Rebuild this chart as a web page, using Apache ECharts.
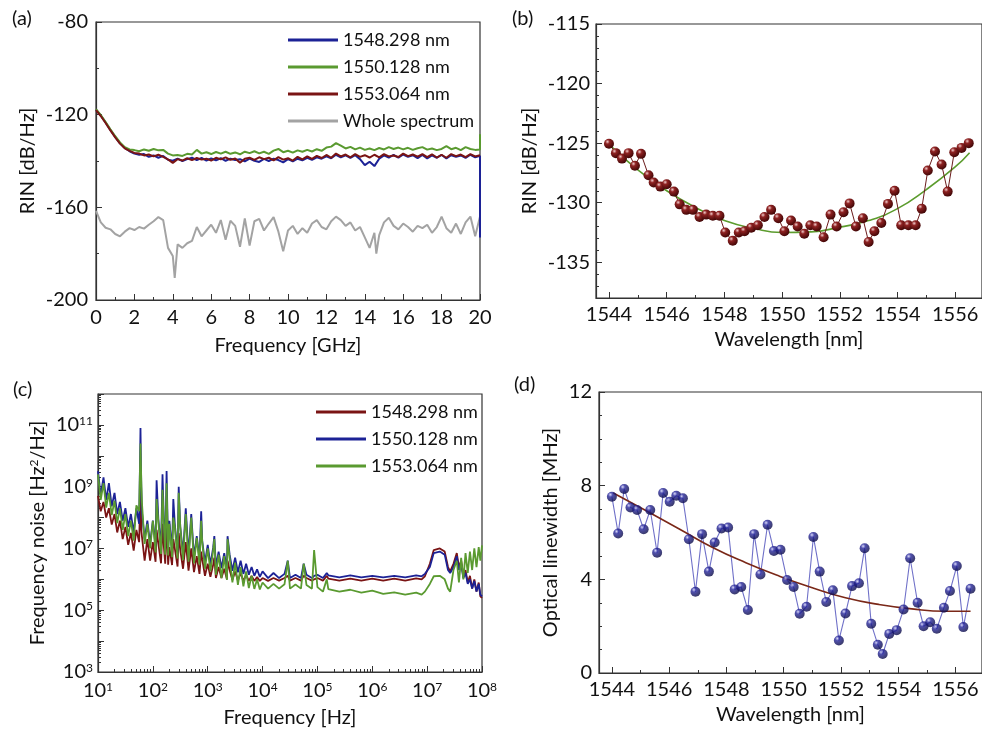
<!DOCTYPE html>
<html>
<head>
<meta charset="utf-8">
<script src="https://cdn.jsdelivr.net/npm/echarts@6/dist/echarts.min.js"></script>
<style>
  html, body { margin: 0; padding: 0; background: #fff; }
  #chart { width: 982px; height: 732px; }
</style>
</head>
<body>
<div id="chart"></div>
<script>
// (a) RIN spectra, GHz / dB/Hz
var rinFreq = [0, 0.25, 0.5, 0.75, 1, 1.25, 1.5, 1.75, 2, 2.25, 2.5, 2.75, 3, 3.25, 3.5, 3.75, 4, 4.25, 4.5, 4.75,
  5, 5.25, 5.5, 5.75, 6, 6.25, 6.5, 6.75, 7, 7.25, 7.5, 7.75, 8, 8.25, 8.5, 8.75, 9, 9.25, 9.5, 9.75,
  10, 10.25, 10.5, 10.75, 11, 11.25, 11.5, 11.75, 12, 12.25, 12.5, 12.75, 13, 13.25, 13.5, 13.75, 14, 14.25, 14.5, 14.75,
  15, 15.25, 15.5, 15.75, 16, 16.25, 16.5, 16.75, 17, 17.25, 17.5, 17.75, 18, 18.25, 18.5, 18.75, 19, 19.25, 19.5, 19.75, 20];
var rin1548 = [-117.8, -120.4, -123.4, -126.6, -129.6, -132.4, -134.4, -135.8, -136.8, -137.3,
  -137.0, -138.2, -137.6, -138.6, -137.8, -139.5, -139.9, -139.0, -140.0, -139.2,
  -138.6, -139.6, -138.7, -139.8, -138.9, -139.7, -138.8, -139.9, -139.0, -139.6,
  -139.2, -140.2, -139.0, -139.9, -140.4, -139.1, -140.0, -139.0, -139.6, -140.6,
  -139.2, -140.2, -139.0, -139.7, -138.6, -139.5, -138.4, -139.0, -138.0, -138.8,
  -137.3, -138.4, -137.6, -138.7, -137.5, -139.2, -141.8, -140.3, -142.2, -139.0,
  -137.6, -138.5, -137.4, -138.6, -137.2, -138.2, -137.5, -138.8, -137.4, -138.9,
  -137.6, -138.6, -137.4, -138.9, -137.5, -138.2, -137.6, -138.7, -137.3, -138.4, -137.8];
var rin1550 = [-117.6, -120.2, -123.2, -126.3, -129.3, -132.0, -134.0, -135.0, -135.3, -135.8,
  -135.0, -135.6, -134.8, -135.4, -135.2, -136.8, -137.6, -137.4, -137.8, -136.9,
  -137.2, -135.2, -136.8, -136.2, -137.0, -136.1, -136.8, -136.0, -136.9, -136.3,
  -137.1, -136.0, -136.6, -135.8, -136.7, -136.0, -136.9, -135.5, -134.8, -136.2,
  -135.6, -136.4, -135.4, -136.0, -135.2, -135.9, -134.9, -135.6, -134.2, -133.8,
  -132.3, -133.4, -134.6, -133.9, -135.0, -134.2, -135.2, -134.6, -135.3, -134.4,
  -135.0, -134.0, -134.8, -134.2, -135.0, -134.3, -135.2, -134.5, -134.0, -135.1,
  -134.6, -135.3, -134.8, -133.6, -134.9, -134.3, -135.3, -134.0, -134.8, -135.2, -135.0];
var rin1553 = [-118.0, -120.6, -123.6, -126.8, -129.8, -132.5, -134.5, -135.6, -136.5, -136.8,
  -137.6, -137.2, -138.0, -137.3, -138.2, -139.3, -140.8, -139.2, -139.8, -138.8,
  -139.6, -138.7, -139.4, -139.0, -139.8, -138.6, -139.3, -138.4, -139.5, -138.9,
  -140.8, -139.0, -138.6, -139.5, -138.4, -139.2, -138.6, -139.7, -138.3, -139.4,
  -138.8, -139.8, -138.2, -139.3, -138.0, -139.1, -137.8, -138.7, -137.4, -138.6,
  -136.8, -138.0, -137.2, -138.4, -137.0, -138.2, -137.5, -138.5, -137.3, -138.4,
  -137.0, -138.0, -137.6, -138.3, -136.8, -137.9, -137.2, -138.1, -137.0, -138.3,
  -137.1, -138.5, -137.3, -138.6, -137.0, -137.9, -137.2, -138.3, -137.0, -138.0, -137.5];
// last reading at 20 GHz where the traces run off
var rinEdgeFreq = [20];
var rin1548Edge = [-173];
var rin1550Edge = [-128.5];

var wholeFreq = [0, 0.25, 0.5, 0.75, 1, 1.25, 1.5, 1.75, 2, 2.25, 2.5, 2.75, 3, 3.25, 3.5, 3.75, 4, 4.1, 4.25, 4.5, 4.75,
  5, 5.25, 5.5, 5.75, 6, 6.25, 6.5, 6.75, 7, 7.25, 7.5, 7.75, 8, 8.25, 8.5, 8.75, 9, 9.25, 9.5, 9.75,
  10, 10.25, 10.5, 10.75, 11, 11.25, 11.5, 11.75, 12, 12.25, 12.5, 12.75, 13, 13.25, 13.5, 13.75, 14, 14.25, 14.5, 14.6, 14.75,
  15, 15.25, 15.5, 15.75, 16, 16.25, 16.5, 16.75, 17, 17.25, 17.5, 17.75, 18, 18.25, 18.5, 18.75, 19, 19.25, 19.5, 19.75, 20];
var rinWhole = [-161.5, -166.5, -168.8, -169.5, -171.5, -172.5, -170.5, -169.0, -169.8, -168.5, -169.2, -167.5, -166.0, -164.2, -165.5, -177.5, -181.0, -190.5, -176.0, -177.5, -175.5,
  -174.5, -168.5, -172.5, -170.0, -167.5, -171.0, -165.5, -174.0, -165.8, -168.0, -177.0, -164.8, -176.5, -166.0, -165.0, -170.0, -167.0, -164.2, -170.5, -179.0,
  -170.0, -168.0, -171.5, -169.0, -171.0, -167.0, -165.5, -168.5, -169.5, -166.0, -164.0, -165.5, -168.0, -166.5, -170.0, -168.5, -173.0, -177.5, -171.0, -180.0, -172.0,
  -166.5, -164.5, -168.0, -169.5, -167.0, -168.5, -170.5, -168.0, -169.0, -167.5, -171.0, -168.5, -164.0, -169.0, -171.0, -167.0, -171.5, -166.5, -164.0, -172.5, -164.0];

// (b) RIN vs wavelength
var rinWl = [1544.0, 1544.24, 1544.45, 1544.68, 1544.9, 1545.11, 1545.37, 1545.55, 1545.78, 1546.0,
  1546.25, 1546.45, 1546.68, 1546.91, 1547.14, 1547.37, 1547.6, 1547.83, 1548.03, 1548.29,
  1548.5, 1548.7, 1548.93, 1549.16, 1549.39, 1549.62, 1549.87, 1550.08, 1550.31, 1550.54,
  1550.77, 1550.98, 1551.2, 1551.44, 1551.68, 1551.89, 1552.13, 1552.34, 1552.56, 1552.8,
  1553.0, 1553.2, 1553.44, 1553.67, 1553.9, 1554.13, 1554.38, 1554.63, 1554.84, 1555.05,
  1555.3, 1555.53, 1555.74, 1555.97, 1556.22, 1556.47];
var rinPts = [-125.05, -125.84, -126.3, -125.84, -126.9, -125.9, -127.7, -128.3, -128.65, -128.45,
  -129.07, -130.14, -130.6, -130.6, -131.2, -131.0, -131.1, -131.1, -132.5, -133.2,
  -132.5, -132.4, -132.1, -131.9, -131.2, -130.6, -131.3, -132.4, -131.5, -132.0,
  -132.6, -131.9, -132.0, -132.9, -131.0, -132.0, -130.8, -130.06, -132.0, -131.3,
  -133.3, -132.4, -131.7, -130.1, -129.0, -131.9, -131.9, -131.9, -130.5, -127.3,
  -125.7, -126.8, -129.07, -125.76, -125.4, -125.0];
var rinFitWl = [1544, 1545, 1546, 1547, 1548, 1549, 1550, 1551, 1552, 1553, 1554, 1555, 1556, 1556.5];
var rinFit = [-125.1, -127.25, -129.0, -130.4, -131.5, -132.15, -132.5, -132.45, -132.05, -131.5, -130.5, -128.9, -127.0, -125.8];

// (c) frequency noise, Hz / Hz^2/Hz
var fnFreq = [10, 11.2, 12.6, 14.1, 15.8, 17.8, 20, 22.4, 25.1, 28.2, 31.6, 35.5, 39.8, 44.7, 50.1, 56.2, 59.5, 61.5, 63.1, 70.8,
  79.4, 89.1, 100, 112, 117, 126, 141, 150, 158, 168, 178, 190, 200, 224, 236, 251, 282, 296, 316, 355,
  398, 447, 501, 562, 631, 708, 760, 794, 891, 1000, 1120, 1260, 1320, 1410, 1580, 1780, 2000, 2240, 2300, 2510,
  2820, 3160, 3550, 3980, 4470, 5010, 5620, 6310, 7080, 7940, 8910, 1e4, 1.26e4, 1.58e4, 2e4, 2.51e4, 2.88e4, 3.16e4, 3.98e4, 5.01e4,
  5.62e4, 6.31e4, 7.94e4, 8.7e4, 1e5, 1.26e5, 1.48e5, 1.58e5, 2.51e5, 3.98e5, 6.31e5, 1e6, 1.58e6, 2.51e6, 3.98e6, 6.31e6, 7.94e6, 9.1e6, 1.12e7, 1.32e7,
  1.7e7, 2.09e7, 2.4e7, 2.63e7, 3.02e7, 3.47e7, 3.8e7, 4.17e7, 4.57e7, 5.01e7, 5.5e7, 6.03e7, 6.61e7, 7.24e7, 7.94e7, 8.71e7, 9.33e7, 1e8];
var fn1548 = [5.0e8, 1.6e8, 3.2e8, 1.0e8, 2.0e8, 5.9e7, 1.3e8, 3.3e7, 7.9e7, 2.0e7, 5.0e7, 1.3e7, 3.2e7, 8.5e6, 4.0e7, 1.6e7, 7.9e8, 4.0e7, 2.5e7, 4.0e6,
  2.0e7, 4.0e6, 1.6e7, 3.7e6, 4.0e7, 1.4e7, 3.3e6, 6.3e7, 1.3e7, 3.2e6, 7.9e7, 3.0e6, 1.1e7, 2.9e6, 2.0e7, 1.0e7, 2.6e6, 3.2e7, 8.9e6, 2.2e6,
  1.6e7, 1.9e6, 1.0e7, 1.7e6, 5.6e6, 1.5e6, 7.9e6, 4.5e6, 1.3e6, 3.2e6, 1.2e6, 3.0e6, 5.0e6, 1.1e6, 2.5e6, 1.1e6, 2.2e6, 1.0e6, 4.0e6, 2.0e6,
  9.5e5, 1.8e6, 9.1e5, 1.6e6, 8.9e5, 1.4e6, 8.9e5, 1.3e6, 8.9e5, 1.2e6, 8.9e5, 1.1e6, 8.9e5, 1.1e6, 9.1e5, 1.1e6, 1.3e6, 9.1e5, 1.1e6, 9.1e5,
  1.3e6, 1.1e6, 9.1e5, 1.0e6, 1.1e6, 9.1e5, 1.3e6, 1.05e6, 9.1e5, 1.05e6, 9.1e5, 1.05e6, 9.1e5, 1.05e6, 9.1e5, 1.07e6, 1.0e6, 1.26e6, 3.2e6, 8.9e6,
  1.0e7, 7.9e6, 2.5e6, 1.8e6, 3.2e6, 7.1e6, 2.5e6, 4.0e6, 1.3e6, 2.0e6, 7.9e5, 1.3e6, 5.0e5, 1.0e6, 4.0e5, 7.9e5, 2.8e5, 2.5e5];
var fn1550 = [3.2e9, 5.2e8, 2.0e9, 3.7e8, 1.3e9, 2.3e8, 6.3e8, 1.3e8, 3.2e8, 7.9e7, 2.0e8, 5.0e7, 1.3e8, 3.4e7, 2.0e8, 6.3e7, 7.9e10, 1.0e9, 1.6e8, 2.0e7,
  7.9e7, 1.4e7, 7.9e7, 1.2e7, 1.6e9, 8.9e7, 1.0e7, 2.5e9, 1.0e8, 1.0e7, 3.2e9, 9.3e6, 7.9e7, 8.3e6, 4.0e8, 6.3e7, 7.4e6, 1.0e9, 5.0e7, 6.6e6,
  2.0e8, 5.9e6, 1.3e8, 5.2e6, 2.5e7, 4.7e6, 1.6e8, 1.8e7, 3.5e6, 1.3e7, 3.0e6, 1.1e7, 2.5e7, 2.6e6, 7.9e6, 2.3e6, 7.1e6, 2.1e6, 2.5e7, 6.3e6,
  1.9e6, 5.0e6, 1.7e6, 4.0e6, 1.5e6, 3.2e6, 1.4e6, 2.5e6, 1.3e6, 2.1e6, 1.2e6, 1.8e6, 1.1e6, 1.6e6, 1.1e6, 1.5e6, 4.0e6, 1.1e6, 1.4e6, 1.1e6,
  3.2e6, 1.4e6, 1.1e6, 1.3e6, 1.4e6, 1.1e6, 1.6e6, 1.35e6, 1.15e6, 1.35e6, 1.15e6, 1.3e6, 1.15e6, 1.3e6, 1.15e6, 1.35e6, 1.25e6, 1.5e6, 2.5e6, 7.1e6,
  7.9e6, 6.3e6, 2.0e6, 1.6e6, 2.5e6, 5.6e6, 2.0e6, 3.2e6, 1.1e6, 1.6e6, 7.1e5, 1.0e6, 5.0e5, 8.9e5, 4.0e5, 7.1e5, 3.2e5, 2.8e5];
var fn1553 = [2.5e9, 3.7e8, 1.3e9, 2.1e8, 6.3e8, 1.2e8, 3.5e8, 6.6e7, 2.0e8, 4.0e7, 1.3e8, 2.5e7, 7.9e7, 1.8e7, 2.5e8, 1.6e8, 2.5e10, 1.6e9, 3.2e8, 1.4e7,
  6.3e7, 1.0e7, 7.9e7, 7.4e6, 4.0e8, 7.1e7, 6.6e6, 7.9e8, 7.9e7, 6.3e6, 1.3e9, 5.9e6, 6.3e7, 5.2e6, 1.0e8, 5.0e7, 4.7e6, 6.3e8, 5.0e7, 4.2e6,
  1.3e8, 3.7e6, 1.0e8, 3.3e6, 2.2e7, 3.0e6, 7.9e7, 1.6e7, 2.2e6, 1.0e7, 1.8e6, 8.9e6, 2.0e7, 1.4e6, 6.3e6, 1.1e6, 5.6e6, 9.5e5, 2.0e7, 5.0e6,
  7.9e5, 3.5e6, 6.6e5, 2.5e6, 5.9e5, 1.8e6, 5.2e5, 1.3e6, 4.9e5, 1.0e6, 4.7e5, 7.9e5, 5.0e5, 7.1e5, 5.0e5, 6.9e5, 4.0e6, 5.0e5, 6.8e5, 5.0e5,
  3.2e6, 6.6e5, 5.0e5, 8.9e6, 5.6e5, 4.0e5, 1.0e6, 4.8e5, 4.0e5, 4.6e5, 3.7e5, 4.3e5, 3.4e5, 3.8e5, 3.2e5, 3.7e5, 3.2e5, 4.0e5, 7.1e5, 1.26e6,
  1.3e6, 1.0e6, 5.0e5, 4.0e5, 2.0e6, 4.0e6, 7.9e5, 5.0e6, 1.0e6, 7.1e6, 1.6e6, 7.9e6, 2.0e6, 1.0e7, 2.5e6, 1.1e7, 4.0e6, 1.26e7];

// (d) optical linewidth vs wavelength
var lwWl = [1544.0, 1544.22, 1544.43, 1544.65, 1544.88, 1545.11, 1545.34, 1545.58, 1545.79, 1546.02,
  1546.25, 1546.48, 1546.69, 1546.92, 1547.15, 1547.39, 1547.59, 1547.83, 1548.06, 1548.29,
  1548.52, 1548.75, 1548.97, 1549.19, 1549.44, 1549.66, 1549.89, 1550.12, 1550.35, 1550.56,
  1550.8, 1551.04, 1551.26, 1551.49, 1551.72, 1551.93, 1552.16, 1552.39, 1552.63, 1552.83,
  1553.06, 1553.29, 1553.46, 1553.69, 1553.95, 1554.19, 1554.42, 1554.68, 1554.89, 1555.12,
  1555.35, 1555.6, 1555.81, 1556.05, 1556.28, 1556.53];
var lwPts = [7.53, 5.96, 7.86, 7.07, 6.96, 6.14, 6.96, 5.14, 7.69, 7.31,
  7.57, 7.46, 5.71, 3.47, 5.93, 4.33, 5.57, 6.17, 6.21, 3.57,
  3.67, 2.69, 5.93, 4.21, 6.33, 5.21, 5.26, 3.97, 3.67, 2.53,
  2.83, 5.81, 4.33, 3.03, 3.53, 1.39, 2.54, 3.71, 3.83, 5.33,
  2.1, 1.21, 0.81, 1.67, 1.83, 2.71, 4.9, 3.0, 2.0, 2.17,
  1.89, 2.79, 3.5, 4.57, 1.96, 3.6];
var lwFitWl = [1544.05, 1545.2, 1546.37, 1547.52, 1548.68, 1549.84, 1551.0, 1552.16, 1553.32, 1554.48, 1555.64, 1556.53];
var lwFit = [7.69, 6.93, 6.14, 5.36, 4.71, 4.14, 3.64, 3.21, 2.93, 2.74, 2.64, 2.64];

var wlMajor = [1544, 1546, 1548, 1550, 1552, 1554, 1556];
var wlMinor = [1545, 1547, 1549, 1551, 1553, 1555];
var rinMajor = [-135, -130, -125, -120, -115];

var FONT = 'Lato, "Open Sans", sans-serif';
var INK = '#111';
var LINE = '#333';

function zip(xs, ys) {
  return xs.map(function (x, i) { return [x, ys[i]]; });
}

function plain(v) {
  return String(v);
}

function sup(v) {
  return '10{s|' + Math.round(Math.log10(v)) + '}';
}

var richSup = {
  s: { fontSize: 12, fontFamily: FONT, color: INK, verticalAlign: 'top', lineHeight: 12 }
};

function baseAxis(extra) {
  var ax = {
    type: 'value',
    splitLine: { show: false },
    axisLine: { show: true, onZero: false, lineStyle: { color: LINE, width: 1.2 } },
    axisTick: { show: true, inside: true, length: 6, lineStyle: { color: LINE } },
    minorTick: { show: false },
    axisLabel: { color: INK, fontSize: 20, fontFamily: FONT, margin: 8 },
    nameLocation: 'middle',
    nameTextStyle: { color: INK, fontSize: 20, fontFamily: FONT }
  };
  return Object.assign(ax, extra);
}

function minorOverlay(gridIndex, min, max, values, pos) {
  return {
    type: 'value', gridIndex: gridIndex, min: min, max: max, position: pos,
    splitLine: { show: false },
    axisLine: { show: false, onZero: false },
    axisLabel: { show: false },
    axisTick: { show: true, inside: true, length: 3, customValues: values, lineStyle: { color: LINE } }
  };
}

var chart = echarts.init(document.getElementById('chart'));

var gridStyle = { show: true, borderColor: LINE, borderWidth: 1.2, backgroundColor: 'transparent' };

var sphereRed = {
  type: 'radial', x: 0.35, y: 0.3, r: 0.75,
  colorStops: [{ offset: 0, color: '#f2cccc' }, { offset: 0.3, color: '#8e2222' }, { offset: 1, color: '#3c0404' }]
};
var sphereBlue = {
  type: 'radial', x: 0.35, y: 0.3, r: 0.75,
  colorStops: [{ offset: 0, color: '#d0d0f8' }, { offset: 0.3, color: '#25259a' }, { offset: 1, color: '#080840' }]
};

var option = {
  animation: false,
  backgroundColor: '#fff',
  textStyle: { fontFamily: FONT },
  grid: [
    Object.assign({ left: 96, top: 22, width: 384, height: 278 }, gridStyle),
    Object.assign({ left: 596, top: 24, width: 388, height: 274 }, gridStyle),
    Object.assign({ left: 98, top: 394, width: 384, height: 278 }, gridStyle),
    Object.assign({ left: 599, top: 392, width: 385, height: 281 }, gridStyle)
  ],
  xAxis: [
    baseAxis({ gridIndex: 0, min: 0, max: 20, interval: 2,
      minorTick: { show: true, splitNumber: 2, length: 3, lineStyle: { color: LINE } },
      name: 'Frequency [GHz]', nameGap: 36 }),
    baseAxis({ gridIndex: 1, min: 1543.55, max: 1556.93,
      axisTick: { show: true, inside: true, length: 6, customValues: wlMajor, lineStyle: { color: LINE } },
      axisLabel: { color: INK, fontSize: 20, fontFamily: FONT, margin: 7, customValues: wlMajor, formatter: plain },
      name: 'Wavelength [nm]', nameGap: 32 }),
    minorOverlay(1, 1543.55, 1556.93, wlMinor, 'bottom'),
    baseAxis({ gridIndex: 2, type: 'log', logBase: 10, min: 10, max: 1e8, splitNumber: 7,
      minorTick: { show: true, splitNumber: 9, length: 3, lineStyle: { color: LINE } },
      axisLabel: { color: INK, fontSize: 20, fontFamily: FONT, margin: 9, formatter: sup, rich: richSup },
      name: 'Frequency [Hz]', nameGap: 36 }),
    baseAxis({ gridIndex: 3, min: 1543.55, max: 1556.93,
      axisTick: { show: true, inside: true, length: 6, customValues: wlMajor, lineStyle: { color: LINE } },
      axisLabel: { color: INK, fontSize: 20, fontFamily: FONT, margin: 7, customValues: wlMajor, formatter: plain },
      name: 'Wavelength [nm]', nameGap: 32 }),
    minorOverlay(3, 1543.55, 1556.93, wlMinor, 'bottom')
  ],
  yAxis: [
    baseAxis({ gridIndex: 0, min: -200, max: -80, interval: 40,
      minorTick: { show: true, splitNumber: 2, length: 3, lineStyle: { color: LINE } },
      name: 'RIN [dB/Hz]', nameGap: 58 }),
    baseAxis({ gridIndex: 1, min: -138, max: -115, interval: 1,
      axisTick: { show: true, inside: true, length: 3, lineStyle: { color: LINE } },
      axisLabel: { color: INK, fontSize: 20, fontFamily: FONT, margin: 6,
        formatter: function (v) { return v % 5 === 0 ? String(v) : ''; } },
      name: 'RIN [dB/Hz]', nameGap: 56 }),
    {
      type: 'value', gridIndex: 1, min: -138, max: -115, position: 'left',
      splitLine: { show: false }, axisLine: { show: false, onZero: false }, axisLabel: { show: false },
      axisTick: { show: true, inside: true, length: 6, customValues: rinMajor, lineStyle: { color: LINE } }
    },
    baseAxis({ gridIndex: 2, type: 'log', logBase: 10, min: 1e3, max: 1e12, splitNumber: 9,
      minorTick: { show: true, splitNumber: 9, length: 3, lineStyle: { color: LINE } },
      axisLabel: { color: INK, fontSize: 20, fontFamily: FONT, margin: 5, rich: richSup,
        formatter: function (v) {
          var e = Math.round(Math.log10(v));
          return e % 2 === 1 ? sup(v) : '';
        } },
      name: 'Frequency noise [Hz{s|2}/Hz]', nameGap: 50,
      nameTextStyle: { color: INK, fontSize: 20, fontFamily: FONT, rich: richSup } }),
    baseAxis({ gridIndex: 3, min: 0, max: 12, interval: 4,
      minorTick: { show: true, splitNumber: 4, length: 3, lineStyle: { color: LINE } },
      axisLabel: { color: INK, fontSize: 20, fontFamily: FONT, margin: 7 },
      name: 'Optical linewidth [MHz]', nameGap: 38 })
  ],
  legend: [
    {
      data: ['1548.298 nm', '1550.128 nm', '1553.064 nm', 'Whole spectrum'],
      orient: 'vertical', left: 288, top: 30, padding: 0,
      icon: 'rect', itemWidth: 50, itemHeight: 3, itemGap: 7,
      selectedMode: false,
      textStyle: { color: INK, fontSize: 18, fontFamily: FONT, lineHeight: 20 }
    },
    {
      data: ['1548.298 nm ', '1550.128 nm ', '1553.064 nm '],
      orient: 'vertical', left: 316, top: 402, padding: 0,
      icon: 'rect', itemWidth: 50, itemHeight: 3, itemGap: 7,
      selectedMode: false,
      textStyle: { color: INK, fontSize: 18, fontFamily: FONT, lineHeight: 20 }
    }
  ],
  graphic: [
    { type: 'text', left: 12, top: 9, style: { text: '(a)', font: '20px ' + FONT, fill: INK } },
    { type: 'text', left: 512, top: 9, style: { text: '(b)', font: '20px ' + FONT, fill: INK } },
    { type: 'text', left: 13, top: 380, style: { text: '(c)', font: '20px ' + FONT, fill: INK } },
    { type: 'text', left: 514, top: 375, style: { text: '(d)', font: '20px ' + FONT, fill: INK } }
  ],
  series: [
    // (a)
    { name: 'Whole spectrum', type: 'line', xAxisIndex: 0, yAxisIndex: 0, symbol: 'none',
      color: '#a3a3a3', lineStyle: { width: 2, color: '#a3a3a3' }, data: zip(wholeFreq, rinWhole) },
    { name: '1548.298 nm', type: 'line', xAxisIndex: 0, yAxisIndex: 0, symbol: 'none',
      color: '#1c2296', lineStyle: { width: 2, color: '#1c2296' },
      data: zip(rinFreq, rin1548).concat(zip(rinEdgeFreq, rin1548Edge)) },
    { name: '1550.128 nm', type: 'line', xAxisIndex: 0, yAxisIndex: 0, symbol: 'none',
      color: '#5a9a30', lineStyle: { width: 2, color: '#5a9a30' },
      data: zip(rinFreq, rin1550).concat(zip(rinEdgeFreq, rin1550Edge)) },
    { name: '1553.064 nm', type: 'line', xAxisIndex: 0, yAxisIndex: 0, symbol: 'none',
      color: '#7a1414', lineStyle: { width: 2, color: '#7a1414' }, data: zip(rinFreq, rin1553) },
    // (b)
    { type: 'line', xAxisIndex: 1, yAxisIndex: 1, symbol: 'none', smooth: true,
      lineStyle: { width: 1.6, color: '#5c9c2e' }, data: zip(rinFitWl, rinFit) },
    { type: 'line', xAxisIndex: 1, yAxisIndex: 1, symbol: 'circle', symbolSize: 10,
      lineStyle: { width: 1, color: '#6b1c1c' }, itemStyle: { color: sphereRed },
      data: zip(rinWl, rinPts) },
    // (c)
    { name: '1548.298 nm ', type: 'line', xAxisIndex: 3, yAxisIndex: 3, symbol: 'none',
      color: '#7a1414', lineStyle: { width: 1.8, color: '#7a1414' }, data: zip(fnFreq, fn1548) },
    { name: '1550.128 nm ', type: 'line', xAxisIndex: 3, yAxisIndex: 3, symbol: 'none',
      color: '#1c2296', lineStyle: { width: 1.8, color: '#1c2296' }, data: zip(fnFreq, fn1550) },
    { name: '1553.064 nm ', type: 'line', xAxisIndex: 3, yAxisIndex: 3, symbol: 'none',
      color: '#5a9a30', lineStyle: { width: 1.8, color: '#5a9a30' }, data: zip(fnFreq, fn1553) },
    // (d)
    { type: 'line', xAxisIndex: 4, yAxisIndex: 4, symbol: 'none', smooth: true,
      lineStyle: { width: 1.6, color: '#7a2818' }, data: zip(lwFitWl, lwFit), z: 3 },
    { type: 'line', xAxisIndex: 4, yAxisIndex: 4, symbol: 'none',
      lineStyle: { width: 1.1, color: '#6f70c8' }, data: zip(lwWl, lwPts), z: 2 },
    { type: 'scatter', xAxisIndex: 4, yAxisIndex: 4, symbolSize: 10,
      itemStyle: { color: sphereBlue }, data: zip(lwWl, lwPts), z: 4 }
  ]
};

chart.setOption(option);
</script>
</body>
</html>
